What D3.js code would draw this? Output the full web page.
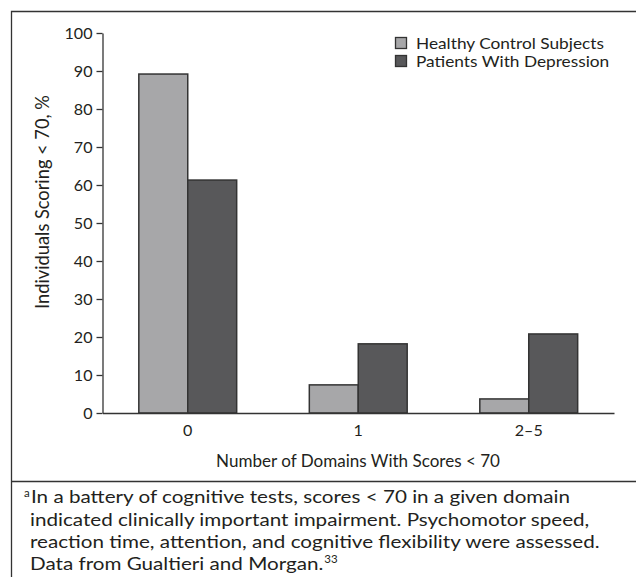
<!DOCTYPE html>
<html><head><meta charset="utf-8">
<script src="https://cdn.jsdelivr.net/npm/d3@7"></script>
<style>
body{margin:0;background:#fff;}
text{font-family:"Lato","Open Sans",sans-serif;fill:#231f20;}
</style></head>
<body>
<svg id="c" width="636" height="577"></svg>
<script>
const categories = ["0", "1", "2\u20135"];
const seriesNames = ["Healthy Control Subjects", "Patients With Depression"];
const healthy = [89.2, 7.4, 3.7];
const depression = [61.3, 18.2, 20.8];
const yTicks = [0, 10, 20, 30, 40, 50, 60, 70, 80, 90, 100];
const colors = ["#a7a7a9", "#58585a"];
const footLines = [
  "In a battery of cognitive tests, scores < 70 in a given domain",
  "indicated clinically important impairment. Psychomotor speed,",
  "reaction time, attention, and cognitive flexibility were assessed.",
  "Data from Gualtieri and Morgan."
];

const svg = d3.select("#c");
const stroke = "#333";

function fit(sel, target) {
  const w = sel.node().getComputedTextLength();
  const fs = parseFloat(sel.attr("font-size"));
  return fs * target / w;
}
function measure(str, fs) {
  const p = svg.append("text").attr("font-size", fs).text(str);
  const w = p.node().getComputedTextLength();
  p.remove();
  return w;
}

// frame
svg.append("path").attr("d","M11.5,577 V11.5 H640").attr("fill","none").attr("stroke",stroke).attr("stroke-width",1.3);
svg.append("line").attr("x1",11).attr("x2",640).attr("y1",481.5).attr("y2",481.5).attr("stroke",stroke).attr("stroke-width",1.3);

const x0 = 102.5, x1 = 614, yTop = 33, yBot = 413;
const x = d3.scaleBand().domain(categories).range([x0, x1]).paddingInner(0.426).paddingOuter(0.213);
const xs = d3.scaleBand().domain(seriesNames).range([0, x.bandwidth()]);
const y = d3.scaleLinear().domain([0, 100]).range([yBot, yTop]);

const data = categories.map((c, i) => ({cat: c, vals: [healthy[i], depression[i]]}));

svg.append("g").selectAll("g.grp").data(data).join("g").attr("class","grp")
  .attr("transform", d => `translate(${x(d.cat)},0)`)
  .selectAll("rect").data(d => d.vals.map((v, j) => ({v, j})))
  .join("rect")
  .attr("x", d => xs(seriesNames[d.j]))
  .attr("width", xs.bandwidth())
  .attr("y", d => y(d.v))
  .attr("height", d => y(0) - y(d.v))
  .attr("fill", d => colors[d.j])
  .attr("stroke", stroke).attr("stroke-width", 1.5);

const tickFs = 16 * 28 / measure("100", 16);

// y axis
const yAxis = d3.axisLeft(y).tickValues(yTicks).tickSize(6).tickPadding(4).tickSizeOuter(0);
const ya = svg.append("g").attr("transform", `translate(${x0},0)`).call(yAxis);
ya.selectAll("path,line").attr("stroke", stroke).attr("stroke-width", 1.3);
ya.selectAll("text").attr("font-size", tickFs).attr("font-family", null).attr("fill", "#231f20");

// x axis
const xAxis = d3.axisBottom(x).tickSize(0).tickPadding(12).tickSizeOuter(0);
const xa = svg.append("g").attr("transform", `translate(0,${yBot})`).call(xAxis);
xa.select("path").attr("stroke", stroke).attr("stroke-width", 1.3);
xa.selectAll("text").attr("font-size", tickFs).attr("font-family", null).attr("fill", "#231f20");

// axis titles
const yt = svg.append("text").attr("transform", `translate(49,202) rotate(-90)`)
  .attr("text-anchor", "middle").attr("font-size", 16).text("Individuals Scoring < 70, %");
yt.attr("font-size", fit(yt, 214));
const xt = svg.append("text").attr("x", 358).attr("y", 467).attr("text-anchor", "middle")
  .attr("font-size", 16).text("Number of Domains With Scores < 70");
xt.attr("font-size", fit(xt, 284));

// legend
const legNat = 16 * 188 / measure(seriesNames[0], 16);
const leg = svg.append("g").attr("transform", "translate(395,37)");
seriesNames.forEach((s, i) => {
  leg.append("rect").attr("x", 0.5).attr("y", i * 18 + 0.5).attr("width", 11).attr("height", 11)
    .attr("fill", colors[i]).attr("stroke", stroke).attr("stroke-width", 1.3);
  const w = measure(s, legNat);
  leg.append("text").attr("x", 21).attr("y", i * 18 + 11.5).attr("font-size", 15)
    .attr("textLength", w).attr("lengthAdjust", "spacingAndGlyphs").text(s);
});

// footnote
const fy = [503, 526, 548, 570];
const footNat = 18 * 570 / measure(footLines[2], 18);
const footFs = 17.8;
footLines.forEach((l, i) => {
  const w = measure(l, footNat);
  const t = svg.append("text").attr("y", fy[i]).attr("font-size", footFs);
  if (i === 0) {
    t.attr("x", 24);
    t.append("tspan").attr("font-size", 11.5).attr("dy", -6).text("a");
    t.append("tspan").attr("x", 31).attr("dy", 6).attr("textLength", w).attr("lengthAdjust", "spacingAndGlyphs").text(l);
  } else {
    t.append("tspan").attr("x", 30).attr("textLength", w).attr("lengthAdjust", "spacingAndGlyphs").text(l);
    if (i === 3) t.append("tspan").attr("x", 30 + w + 1).attr("font-size", 11.5).attr("dy", -7).text("33");
  }
});
</script>
</body></html>
